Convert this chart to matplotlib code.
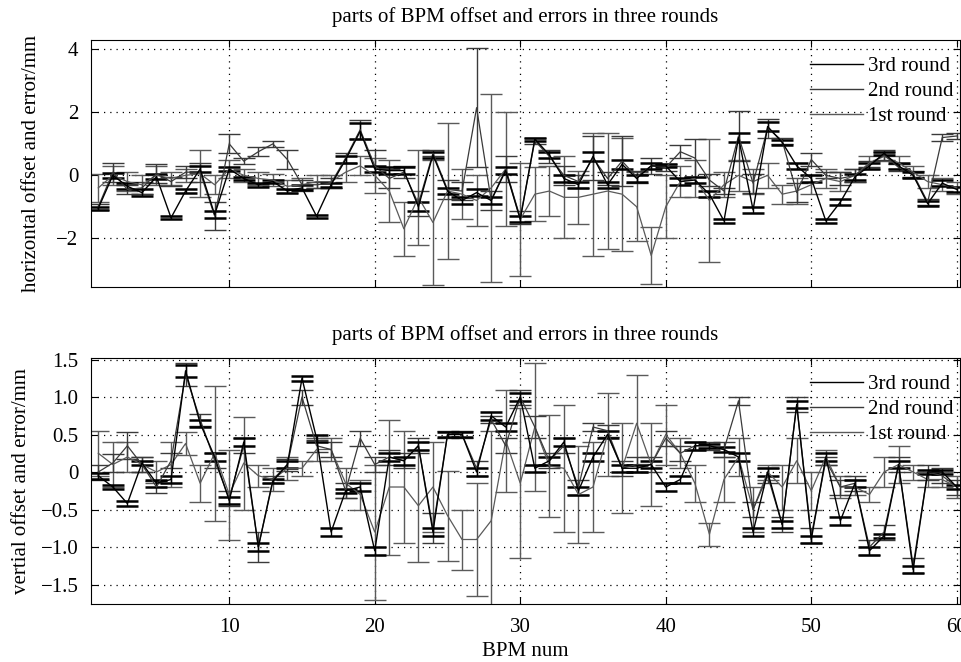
import numpy as np
import matplotlib
matplotlib.use("Agg")
import matplotlib.pyplot as plt
from matplotlib.lines import Line2D

bpm = list(range(1, 61))

# ---- horizontal (top panel) ----
top_r3 = [-1.05, 0.0, -0.35, -0.55, -0.05, -1.35, -0.5, 0.2, -1.25, 0.2,
          -0.1, -0.3, -0.2, -0.5, -0.4, -1.3, -0.3, 0.5, 1.4, 0.2,
          0.15, 0.15, -1.0, 0.65, -0.5, -0.8, -0.55, -0.8, 0.15, -1.4,
          1.15, 0.65, -0.1, -0.3, 0.6, -0.3, 0.35, -0.1, 0.3, 0.3,
          -0.2, -0.15, -0.6, -1.45, 1.2, -1.1, 1.55, 1.05, 0.3, -0.1,
          -1.45, -0.85, -0.05, 0.3, 0.7, 0.3, 0.0, -0.9, -0.25, -0.45]
top_e3 = [0.05, 0.08, 0.1, 0.1, 0.08, 0.05, 0.05, 0.1, 0.1, 0.05,
          0.06, 0.06, 0.05, 0.06, 0.08, 0.05, 0.06, 0.1, 0.25, 0.1,
          0.1, 0.1, 0.15, 0.1, 0.1, 0.1, 0.1, 0.1, 0.1, 0.1,
          0.05, 0.1, 0.1, 0.1, 0.15, 0.1, 0.15, 0.1, 0.1, 0.05,
          0.1, 0.1, 0.1, 0.06, 0.15, 0.1, 0.15, 0.08, 0.1, 0.1,
          0.06, 0.1, 0.1, 0.1, 0.05, 0.1, 0.1, 0.08, 0.1, 0.08]
top_r2 = [-1.0, 0.1, -0.45, -0.4, 0.05, -0.2, 0.1, 0.1, -1.3, 1.0,
          0.45, 0.75, 1.0, 0.5, -0.3, -0.3, -0.25, 0.55, 1.45, 0.3,
          -0.1, 0.1, -0.9, 0.7, -0.45, -0.5, 2.15, -0.8, 0.2, -1.35,
          1.1, 0.6, 0.0, -0.2, 0.55, -0.1, 0.45, -0.05, 0.3, 0.25,
          0.75, 0.55, -0.15, -0.5, 1.25, -0.25, 1.5, 1.1, -0.55, 0.5,
          0.0, -0.1, 0.0, 0.35, 0.65, 0.25, 0.05, -0.85, 1.2, 1.25]
top_e2 = [0.1, 0.3, 0.15, 0.2, 0.3, 0.15, 0.2, 0.3, 0.45, 0.3,
          0.1, 0.15, 0.1, 0.3, 0.15, 0.1, 0.15, 0.15, 0.3, 0.5,
          0.3, 0.2, 0.4, 0.1, 0.3, 0.3, 1.9, 0.3, 0.4, 0.2,
          0.1, 0.2, 0.3, 0.2, 0.7, 0.2, 0.8, 0.2, 0.25, 0.1,
          0.2, 0.6, 0.2, 0.1, 0.8, 0.3, 0.3, 0.1, 0.3, 0.2,
          0.1, 0.2, 0.2, 0.1, 0.15, 0.1, 0.1, 0.1, 0.1, 0.1]
top_r1 = [-0.4, 0.0, -0.2, -0.3, 0.0, -0.1, 0.0, 0.05, -0.3, 0.2,
          0.0, -0.1, -0.15, -0.35, -0.3, -0.2, -0.2, 0.1, 0.3, 0.0,
          -0.5, -1.7, -0.7, -1.5, -0.5, -0.6, -0.8, -0.4, 0.2, -1.4,
          -0.6, -0.5, -0.7, -0.7, -0.6, -0.5, -0.6, -1.0, -2.55, -1.0,
          -0.2, -0.1, -0.8, -0.3, 0.0, -0.2, 0.0, -0.6, -0.5, -0.3,
          -0.1, -0.2, 0.0, 0.4, 0.6, 0.4, 0.1, -0.2, -0.3, -0.4]
top_e1 = [0.45, 0.3, 0.3, 0.3, 0.3, 0.2, 0.2, 0.75, 0.3, 0.3,
          0.2, 0.2, 0.2, 0.2, 0.2, 0.2, 0.2, 0.3, 0.3, 0.55,
          1.0, 0.85, 1.5, 2.0, 2.15, 0.8, 0.8, 3.0, 1.8, 1.8,
          0.85, 0.8, 1.3, 0.85, 1.95, 1.85, 1.8, 1.1, 0.9, 1.0,
          0.5, 0.6, 1.95, 0.4, 0.5, 0.4, 0.4, 0.3, 0.4, 0.3,
          0.3, 0.3, 0.2, 0.2, 0.15, 0.2, 0.2, 0.2, 0.2, 0.2]

# ---- vertical (bottom panel) ----
bot_r3 = [-0.05, -0.2, -0.42, 0.12, -0.15, -0.1, 1.35, 0.65, 0.2, -0.38,
          0.4, -1.0, -0.12, 0.1, 1.25, 0.45, -0.8, -0.25, -0.2, -1.05,
          0.2, 0.15, 0.35, -0.8, 0.5, 0.5, 0.0, 0.75, 0.6, 1.0,
          0.05, 0.15, 0.4, -0.25, 0.2, 0.5, 0.05, 0.05, 0.1, -0.2,
          -0.1, 0.35, 0.35, 0.3, 0.2, -0.8, 0.0, -0.7, 0.9, -0.9,
          0.2, -0.65, -0.15, -1.05, -0.85, 0.1, -1.3, 0.0, 0.0, -0.2]
bot_e3 = [0.04, 0.03, 0.03, 0.03, 0.05, 0.05, 0.08, 0.05, 0.05, 0.05,
          0.05, 0.05, 0.03, 0.05, 0.03, 0.05, 0.05, 0.03, 0.05, 0.05,
          0.05, 0.05, 0.05, 0.05, 0.03, 0.03, 0.05, 0.05, 0.05, 0.05,
          0.05, 0.05, 0.05, 0.05, 0.05, 0.05, 0.05, 0.05, 0.05, 0.05,
          0.05, 0.05, 0.03, 0.03, 0.05, 0.05, 0.05, 0.05, 0.05, 0.05,
          0.05, 0.05, 0.05, 0.05, 0.03, 0.05, 0.05, 0.03, 0.03, 0.03]
bot_r2 = [0.0, 0.12, 0.35, 0.1, -0.2, 0.15, 1.3, 0.7, 0.15, -0.35,
          0.35, -1.0, -0.1, 0.1, 1.0, 0.35, 0.3, -0.25, 0.45, 0.1,
          0.2, 0.15, 0.35, -0.75, 0.5, 0.5, 0.05, 0.7, 0.35, 1.0,
          0.6, 0.15, 0.35, -0.2, 0.6, 0.55, 0.05, 0.1, 0.1, 0.45,
          0.25, 0.35, 0.35, 0.3, 0.95, -0.5, -0.05, -0.7, 0.9, -0.85,
          0.15, -0.2, -0.15, -1.0, -0.8, 0.1, -1.25, 0.0, -0.05, -0.2]
bot_e2 = [0.1, 0.12, 0.18, 0.1, 0.08, 0.1, 0.15, 0.08, 0.1, 0.1,
          0.1, 0.2, 0.05, 0.08, 0.1, 0.08, 0.1, 0.1, 0.1, 0.1,
          0.1, 0.1, 0.1, 0.2, 0.05, 0.05, 0.1, 0.05, 0.1, 0.1,
          0.15, 0.1, 0.1, 0.1, 0.05, 0.08, 0.1, 0.1, 0.1, 0.1,
          0.1, 0.05, 0.05, 0.1, 0.05, 0.1, 0.1, 0.1, 0.1, 0.1,
          0.05, 0.1, 0.1, 0.1, 0.1, 0.1, 0.1, 0.1, 0.1, 0.1]
bot_r1 = [0.25, 0.1, 0.2, 0.1, 0.0, 0.1, 0.38, -0.15, 0.25, -0.3,
          0.12, -0.05, -0.1, 0.05, 0.05, 0.3, 0.3, -0.15, -0.3, -0.8,
          -0.2, -0.2, -0.45, -0.2, -0.58, -0.9, -0.9, -0.65, 0.42, -0.15,
          0.6, 0.08, 0.05, -0.3, -0.2, 0.5, 0.05, 0.65, 0.1, 0.5,
          0.25, -0.15, -0.83, -0.1, 0.2, -0.5, 0.0, -0.2, 0.15, -0.25,
          0.2, -0.2, -0.2, -0.3, 0.0, 0.1, 0.0, -0.1, -0.1, -0.2]
bot_e1 = [0.3, 0.3, 0.2, 0.1, 0.15, 0.3, 0.15, 0.25, 0.9, 0.6,
          0.62, 0.15, 0.15, 0.15, 0.1, 0.15, 0.15, 0.2, 0.2, 0.9,
          0.9, 0.75, 0.75, 0.6, 0.6, 0.4, 0.75, 1.2, 0.68, 1.0,
          0.85, 0.68, 0.85, 0.65, 0.6, 0.55, 0.6, 0.65, 0.55, 0.4,
          0.2, 0.25, 0.15, 0.3, 0.25, 0.3, 0.1, 0.3, 0.3, 0.25,
          0.1, 0.15, 0.1, 0.1, 0.2, 0.25, 0.1, 0.1, 0.1, 0.15]

labels = ["3rd round", "2nd round", "1st round"]
colors = ["#000000", "#3a3a3a", "#5a5a5a"]

plt.rcParams['font.family'] = ['Liberation Serif', 'DejaVu Serif']
plt.rcParams['axes.unicode_minus'] = True

fig = plt.figure(figsize=(9.62, 6.62), dpi=100)
ax1 = fig.add_axes([0.0946, 0.5665, 0.903, 0.373])
ax2 = fig.add_axes([0.0946, 0.0876, 0.903, 0.3716])

FS = 15

def draw(ax, r1, e1, r2, e2, r3, e3):
    ax.errorbar(bpm, r1, yerr=e1, color=colors[2], lw=0.9, capsize=8, capthick=1.0, elinewidth=1.0)
    ax.errorbar(bpm, r2, yerr=e2, color=colors[1], lw=0.9, capsize=8, capthick=1.0, elinewidth=1.0)
    ax.errorbar(bpm, r3, yerr=e3, color=colors[0], lw=1.0, capsize=8, capthick=1.8, elinewidth=1.0)
    ax.set_xlim(0.5, 60.2)
    ax.grid(True, linestyle=(0, (1, 4)), color='black', linewidth=0.9)
    ax.tick_params(direction='in', top=True, right=True, length=5, labelsize=FS)
    ax.tick_params(axis='y', pad=9)
    ax.tick_params(axis='x', pad=10)
    ax.set_xticks([10, 20, 30, 40, 50, 60])
    handles = [Line2D([], [], color=c, lw=1.0) for c in colors]
    ax.legend(handles, labels, loc='upper right', bbox_to_anchor=(1.003, 0.968),
              frameon=False, fontsize=FS,
              handlelength=2.55, handletextpad=0.25, labelspacing=0.27,
              borderaxespad=0.0)
    ax.set_title("parts of BPM offset and errors in three rounds", fontsize=FS, pad=13)

draw(ax1, top_r1, top_e1, top_r2, top_e2, top_r3, top_e3)
ax1.set_ylim(-3.55, 4.3)
ax1.set_yticks([-2, 0, 2, 4])
ax1.set_xticklabels([])
ax1.set_ylabel("horizontal offset and error/mm", fontsize=FS)
ax1.yaxis.set_label_coords(-0.0575, 0.5)

draw(ax2, bot_r1, bot_e1, bot_r2, bot_e2, bot_r3, bot_e3)
ax2.set_ylim(-1.76, 1.52)
ax2.set_yticks([-1.5, -1.0, -0.5, 0, 0.5, 1.0, 1.5])
ax2.set_yticklabels(["\u22121.5", "\u22121.0", "\u22120.5", "0", "0.5", "1.0", "1.5"])
ax2.set_ylabel("vertial offset and error/mm", fontsize=FS)
ax2.yaxis.set_label_coords(-0.069, 0.5)
ax2.set_xlabel("BPM num", fontsize=FS, labelpad=4)

fig.savefig("out.png", dpi=100)
